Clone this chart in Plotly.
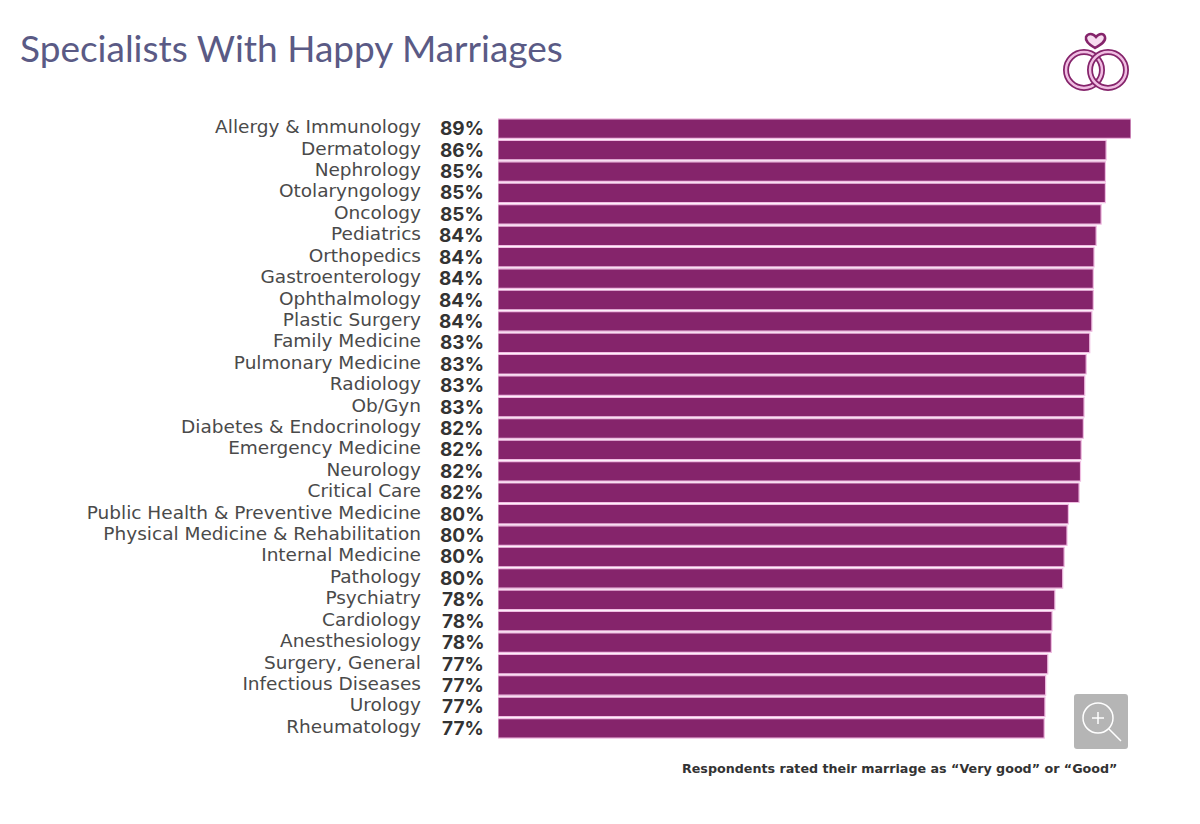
import plotly.graph_objects as go

specialties = ['Allergy & Immunology', 'Dermatology', 'Nephrology', 'Otolaryngology', 'Oncology',
               'Pediatrics', 'Orthopedics', 'Gastroenterology', 'Ophthalmology', 'Plastic Surgery',
               'Family Medicine', 'Pulmonary Medicine', 'Radiology', 'Ob/Gyn', 'Diabetes & Endocrinology',
               'Emergency Medicine', 'Neurology', 'Critical Care', 'Public Health & Preventive Medicine',
               'Physical Medicine & Rehabilitation', 'Internal Medicine', 'Pathology', 'Psychiatry',
               'Cardiology', 'Anesthesiology', 'Surgery, General', 'Infectious Diseases', 'Urology',
               'Rheumatology']
# printed labels
percent_labels = [89, 86, 85, 85, 85, 84, 84, 84, 84, 84, 83, 83, 83, 83, 82, 82, 82, 82,
                  80, 80, 80, 80, 78, 78, 78, 77, 77, 77, 77]
# bar lengths, they differ a little from the rounded labels
bar_values = [89.0, 85.5, 85.4, 85.4, 84.8, 84.1, 83.8, 83.7, 83.7, 83.5, 83.2, 82.7, 82.5, 82.4, 82.3,
              82.0, 81.9, 81.7, 80.2, 80.0, 79.6, 79.4, 78.3, 77.9, 77.8, 77.3, 77.0, 76.9, 76.8]

W, H = 1200, 824
PURPLE = '#85246b'
PINK = '#f0bde2'
PAGE_MARGIN = 8  # body margin of the html page


def px(x):
    return (x - PAGE_MARGIN) / W


def py(y):
    return 1 - (y - PAGE_MARGIN) / H


def circle(cx, cy, r, color, width, fill=None):
    return dict(type='circle', xref='paper', yref='paper', x0=px(cx - r), x1=px(cx + r),
                y0=py(cy + r), y1=py(cy - r), line=dict(color=color, width=width),
                fillcolor=fill, layer='above')


def path(points, color, width, fill=None):
    # points are (command, x, y, ...) in screen pixels
    parts = []
    for p in points:
        vals = p[1:]
        coords = []
        for i in range(0, len(vals), 2):
            coords.append(f'{px(vals[i]):.5f},{py(vals[i + 1]):.5f}')
        parts.append(p[0] + ' '.join(coords))
    return dict(type='path', xref='paper', yref='paper', path=' '.join(parts) + (' Z' if fill else ''),
                line=dict(color=color, width=width), fillcolor=fill, layer='above')


fig = go.Figure(go.Bar(
    x=bar_values,
    y=specialties,
    orientation='h',
    marker=dict(color=PURPLE, line=dict(color=PINK, width=1.2)),
    hoverinfo='x+y',
))

annotations = []
for name, pct in zip(specialties, percent_labels):
    annotations.append(dict(x=0, y=name, xref='x', yref='y', text=f'<b>{pct}%</b>', showarrow=False,
                            xanchor='right', xshift=-12,
                            font=dict(family='Inter', size=19, color='#333333')))
annotations.append(dict(x=px(18), y=py(48), xref='paper', yref='paper', text='Specialists With Happy Marriages',
                        showarrow=False, xanchor='left', yanchor='middle',
                        font=dict(family='Lato', size=37, color='#5a5a85')))
annotations.append(dict(x=px(1119), y=py(768), xref='paper', yref='paper',
                        text='<b>Respondents rated their marriage as “Very good” or “Good”</b>',
                        showarrow=False, xanchor='right', yanchor='middle',
                        font=dict(family='DejaVu Sans', size=12.7, color='#333333')))

shapes = [
    # logo rings
    circle(1084, 70, 18, PURPLE, 6),
    circle(1084, 70, 18, PINK, 2.5),
    circle(1108, 70, 18, PURPLE, 6),
    circle(1108, 70, 18, PINK, 2.5),
    # heart
    path([('M', 1095, 48), ('C', 1088, 44, 1085, 41, 1086, 37), ('C', 1088, 33, 1093, 33, 1096, 37),
          ('C', 1099, 33, 1104, 33, 1105, 37), ('C', 1106, 41, 1102, 44, 1095, 48)], PURPLE, 2.5, '#f7dcf0'),
    # zoom button
    path([('M', 1077, 694), ('L', 1125, 694), ('C', 1127, 694, 1128, 695, 1128, 697), ('L', 1128, 746),
          ('C', 1128, 748, 1127, 749, 1125, 749), ('L', 1077, 749), ('C', 1075, 749, 1074, 748, 1074, 746),
          ('L', 1074, 697), ('C', 1074, 695, 1075, 694, 1077, 694)], '#b5b5b5', 0, '#b5b5b5'),
    circle(1098, 718, 15, 'white', 1.5),
    path([('M', 1109, 729), ('L', 1121, 741)], 'white', 1.5),
    path([('M', 1092, 718), ('L', 1104, 718)], 'white', 1.5),
    path([('M', 1098, 712), ('L', 1098, 724)], 'white', 1.5),
]

fig.update_layout(
    width=W,
    height=H,
    margin=dict(l=0, r=0, t=0, b=0),
    paper_bgcolor='white',
    plot_bgcolor='white',
    showlegend=False,
    bargap=0.09,
    annotations=annotations,
    shapes=shapes,
    xaxis=dict(domain=[px(498), px(1131)], range=[0, 89], visible=False, fixedrange=True),
    yaxis=dict(domain=[py(739), py(118)], range=[28.5, -0.5], type='category', showline=False, showgrid=False,
               tickmode='array', tickvals=specialties, ticktext=specialties,
               ticks='', ticklabelstandoff=76, ticklabelshift=2,
               tickfont=dict(family='DejaVu Sans', size=18.5, color='#4a4a4a'),
               automargin=False, fixedrange=True),
)

fig.write_html('out.html')
